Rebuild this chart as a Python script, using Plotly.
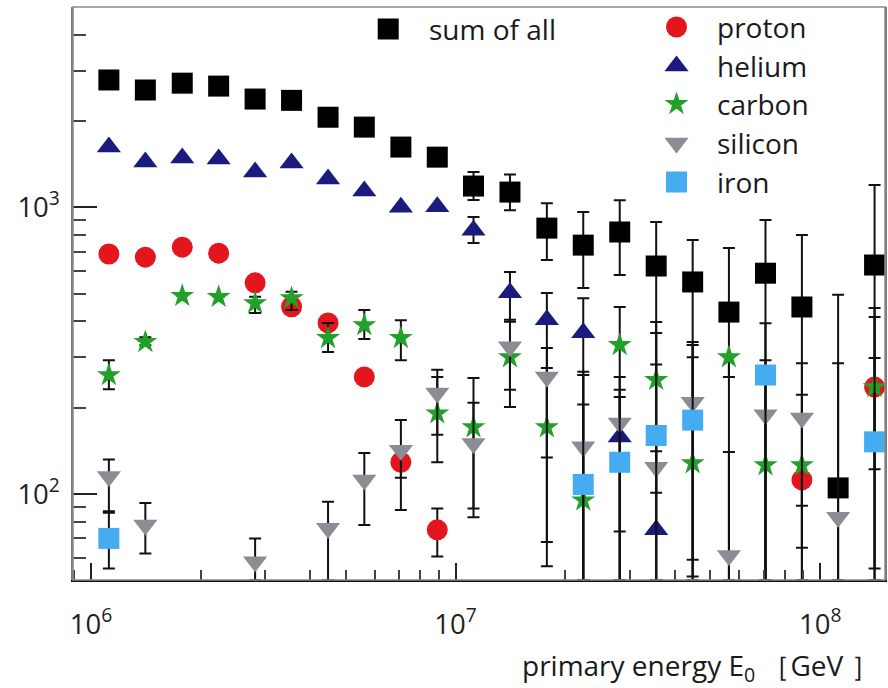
import plotly.graph_objects as go

N = None
# primary energy bins (GeV)
energy = [1.12e6, 1.41e6, 1.78e6, 2.24e6, 2.82e6, 3.55e6, 4.47e6, 5.62e6, 7.08e6, 8.91e6,
          1.12e7, 1.41e7, 1.78e7, 2.24e7, 2.82e7, 3.55e7, 4.47e7, 5.62e7, 7.08e7, 8.91e7,
          1.12e8, 1.41e8]

sum_all = [2780, 2565, 2710, 2647, 2385, 2360, 2061, 1904, 1622, 1496, 1186, 1130, 846, 738, 820, 624, 549, 431, 589, 449, 105, 629]
sum_hi = [N]*10 + [1327, 1300, 1034, 962, 1059, 889, 769, 721, 903, 800, 495, 1196]
sum_lo = [N]*10 + [1060, 977, 655, 523, 580, 50, 50, 50, 50, 50, 50, 50]

proton = [687, 670, 726, 692, 545, 450, 395, 256, 129, 75, N, N, N, N, N, N, N, N, N, 112, N, 236]
proton_hi = [N]*8 + [N, 89] + [N]*9 + [N, N, 445]
proton_lo = [N]*8 + [114, 60.5] + [N]*9 + [91, N, 55]

helium = [1622, 1440, 1485, 1473, 1327, 1427, 1255, 1140, 1000, 1005, 832, 503, 405, 365, 158, 75, N, N, N, N, N, N]
helium_hi = [N]*10 + [925, 595, 502, 482, 231, 141] + [N]*6
helium_lo = [N]*10 + [750, 399, 68, 50, 74, 50] + [N]*6

carbon = [260, 339, 491, 487, 463, 482, 350, 388, 350, 191, 171, 300, 171, 95, 331, 250, 128, 300, 126, 126, N, 236]
carbon_hi = [293, 352, N, N, 487, 507, 395, 438, 404, 256, 254, 405, 275, 260, 449, 398, 339, N, 267, 222, N, 414]
carbon_lo = [232, 330, N, N, 428, 438, 313, 347, 293, 161, 83, 201, 56, 50, 50, 50, 59, 256, 50, 65, N, 50]

silicon = [115, 78, N, N, 58, N, 76, 112, 142, 225, 150, 326, 256, 146, 177, 124, 209, 61, 189, 184, 83, N]
silicon_hi = [132, 93, N, N, 70, N, 94, 139, 181, 271, 208, N, 323, 267, 256, 283, 331, 140, 293, 286, 286, N]
silicon_lo = [87, 62, N, N, 50, N, 50, 78, 88, 129, 89, 231, 134, 50, 50, 50, 50, 50, 50, 50, 50, N]

iron = [70, N, N, N, N, N, N, N, N, N, N, N, N, 108, 129, 160, 181, N, 260, N, N, 152]
iron_hi = [86, N, N, N, N, N, N, N, N, N, N, N, N, 205, 218, 364, 300, N, 394, N, N, 298]
iron_lo = [55, N, N, N, N, N, N, N, N, N, N, N, N, 50, 50, 101, 51.5, N, 50, N, N, 122]

names = ["sum of all", "proton", "helium", "carbon", "silicon", "iron"]
series = [(sum_all, sum_hi, sum_lo), (proton, proton_hi, proton_lo), (helium, helium_hi, helium_lo),
          (carbon, carbon_hi, carbon_lo), (silicon, silicon_hi, silicon_lo), (iron, iron_hi, iron_lo)]
colors = ["#000000", "#e3161e", "#1b1b7e", "#22a02a", "#8c8c94", "#45acf2"]
symbols = ["square", "circle", "triangle-up", "star", "triangle-down", "square"]
sizes = [21, 21, 21, 18, 21, 21]

# legend layout (pixel positions inside the plot frame)
leg_x = [389, 678, 678, 678, 678, 678]
leg_y = [29, 27, 66, 104, 143, 182]
leg_tx = [428, 717, 717, 717, 717, 717]

fig = go.Figure()

for name, (v, hi, lo), c, s, sz in zip(names, series, colors, symbols, sizes):
    xs, ys, up, dn = [], [], [], []
    for e, val, h, l in zip(energy, v, hi, lo):
        if val is None:
            continue
        xs.append(e)
        ys.append(val)
        up.append(0 if h is None else h - val)
        dn.append(0 if l is None else val - l)
    fig.add_trace(go.Scatter(
        x=xs, y=ys, mode="markers", name=name, showlegend=False,
        marker=dict(symbol=s, size=sz, color=c, line=dict(width=0)),
        error_y=dict(type="data", symmetric=False, array=up, arrayminus=dn,
                     color="#111111", thickness=2, width=6),
    ))

# legend drawn on an overlay pixel axis
for name, c, s, sz, lx, ly, tx in zip(names, colors, symbols, sizes, leg_x, leg_y, leg_tx):
    fig.add_trace(go.Scatter(x=[lx], y=[ly], mode="markers", xaxis="x2", yaxis="y2",
                             showlegend=False, hoverinfo="skip",
                             marker=dict(symbol=s, size=sz, color=c, line=dict(width=0))))
    fig.add_annotation(x=tx, y=ly, xref="x2", yref="y2", text=name, showarrow=False,
                       xanchor="left", yanchor="middle",
                       font=dict(family="Open Sans", size=28, color="#1a1a1a"))

fig.add_annotation(x=0.995, y=-0.152, xref="paper", yref="paper",
                   text="primary energy E<sub>0</sub> ［GeV ］", showarrow=False,
                   xanchor="right", yanchor="middle",
                   font=dict(family="Open Sans", size=28, color="#1a1a1a"))

fig.update_layout(
    width=888, height=688,
    margin=dict(l=73, r=1, t=7, b=108),
    paper_bgcolor="white", plot_bgcolor="white",
    showlegend=False,
    xaxis=dict(type="log", range=[5.9508, 8.1778], tickmode="linear", tick0=0, dtick=1,
               exponentformat="power", showgrid=False, zeroline=False,
               showline=True, linecolor="#111111", linewidth=2, mirror=False,
               ticks="inside", ticklen=17, tickwidth=1.5, tickcolor="#222222",
               minor=dict(ticks="inside", ticklen=10, tickwidth=1.5, tickcolor="#444444", dtick="D1", showgrid=False),
               tickfont=dict(family="Open Sans", size=22, color="#222222"),
               ticklabelstandoff=20),
    yaxis=dict(type="log", range=[1.700, 3.6986], tickmode="linear", tick0=0, dtick=1,
               exponentformat="power", showgrid=False, zeroline=False,
               showline=True, linecolor="#777777", linewidth=1.5, mirror=True,
               ticks="inside", ticklen=24, tickwidth=1.5, tickcolor="#222222",
               minor=dict(ticks="inside", ticklen=13, tickwidth=1.5, tickcolor="#444444", dtick="D1", showgrid=False),
               tickfont=dict(family="Open Sans", size=22, color="#222222"),
               ticklabelstandoff=7),
    xaxis2=dict(overlaying="x", range=[73, 887], visible=False, fixedrange=True),
    yaxis2=dict(overlaying="y", range=[580, 7], visible=False, fixedrange=True),
    shapes=[dict(type="rect", xref="paper", yref="paper", x0=0, x1=1, y0=0, y1=1,
                 line=dict(color="#8a8a8a", width=1.5), fillcolor="rgba(0,0,0,0)")],
)

fig.write_html("out.html")
